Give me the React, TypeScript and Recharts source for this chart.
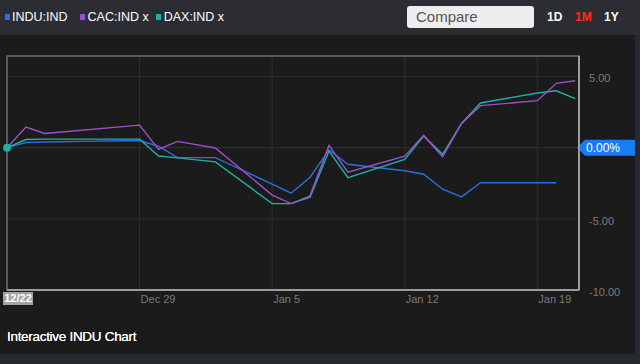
import React from "react";
import {
  LineChart,
  Line,
  XAxis,
  YAxis,
  CartesianGrid,
  ReferenceLine,
  ReferenceArea,
} from "recharts";

// days since 12/22
const days = [0, 1, 2, 4, 7, 8, 9, 11, 14, 15, 16, 17, 18, 21, 22, 23, 24, 25, 28, 29, 30];
const indu = [0, 0.36, 0.4, 0.44, 0.5, 0.1, -0.7, -0.7, -2.56, -3.2, -2.08, -0.16, -1.17, -1.62, -1.87, -2.92, -3.46, -2.46, null, -2.46, null];
const cac = [0, 1.45, 1.0, null, 1.58, -0.12, 0.44, -0.02, -3.33, -3.93, -3.38, 0.16, -1.72, -0.6, 0.86, -0.65, 1.7, 2.95, 3.3, 4.52, 4.7];
const dax = [0, 0.57, 0.6, null, 0.6, -0.59, -0.72, -1.0, -3.93, -3.93, -3.48, -0.24, -2.1, -0.82, 0.81, -0.47, 1.7, 3.14, 3.84, 4.0, 3.45];

const xTicks = [0, 7, 14, 21, 28];
const xTickLabels = ["12/22", "Dec 29", "Jan 5", "Jan 12", "Jan 19"];
const yTicks = [5, 0, -5, -10];

const data = days.map((d, i) => ({ day: d, indu: indu[i], cac: cac[i], dax: dax[i] }));

const FONT = '"Liberation Sans", Arial, sans-serif';
const BLUE = "#2a6fdc";
const PURPLE = "#9d4fcf";
const TEAL = "#1fb0a4";

function XTick(props: any) {
  const { x, y, payload, index } = props;
  const label = xTickLabels[xTicks.indexOf(payload.value)];
  if (index === 0) {
    return (
      <g>
        <rect x={3} y={y - 6} width={30} height={13} fill="#a3a3a3" />
        <text x={18} y={y + 4} textAnchor="middle" fill="#fff" fontSize={11} fontWeight="bold" fontFamily={FONT}>
          {label}
        </text>
      </g>
    );
  }
  return (
    <text x={x + 1} y={y + 5} textAnchor="start" fill="#7a7a7a" fontSize={11} fontFamily={FONT}>
      {label}
    </text>
  );
}

function YTick(props: any) {
  const { x, y, payload } = props;
  if (payload.value === 0) return <g />;
  return (
    <text x={x + 2} y={y + 6} textAnchor="start" fill="#7a7a7a" fontSize={11} fontFamily={FONT}>
      {payload.value.toFixed(2)}
    </text>
  );
}

function Badge(props: any) {
  const { viewBox } = props;
  const tip = viewBox.x + viewBox.width - 2;
  const cy = viewBox.y;
  return (
    <g>
      <polygon
        points={`${tip},${cy} ${tip + 8},${cy - 8} 635,${cy - 8} 635,${cy + 8} ${tip + 8},${cy + 8}`}
        fill="#1a7cf4"
      />
      <text x={tip + 9} y={cy + 4} fill="#fff" fontSize={12} fontFamily={FONT}>
        0.00%
      </text>
    </g>
  );
}

function StartDot(props: any) {
  const { cx, cy, index } = props;
  if (index !== 0) return <g key={index} />;
  return <circle key={index} cx={cx} cy={cy} r={4} fill={TEAL} />;
}

export default function App() {
  return (
    <div style={{ position: "relative", width: 640, height: 364, background: "#262930", fontFamily: FONT, overflow: "hidden" }}>
      <style>{"body{margin:0}"}</style>
      <div style={{ position: "absolute", left: 0, top: 35, width: 635, height: 319, background: "#1c1b1c" }} />

      <div style={{ position: "absolute", left: 0, top: 0 }}>
        <LineChart width={640} height={364} data={data} margin={{ top: 56, right: 0, bottom: 44, left: 7 }}>
          <CartesianGrid stroke="#2f2e2f" />
          <ReferenceArea x1={0} x2={30.2} y1={-10} y2={6.44} fill="none" stroke="#6a6a6a" strokeWidth={1.5} />
          <XAxis
            type="number"
            dataKey="day"
            domain={[0, 30.2]}
            ticks={xTicks}
            height={30}
            tickLine={false}
            axisLine={{ stroke: "#9c9c9c", strokeWidth: 2 }}
            tick={<XTick />}
            interval={0}
          />
          <YAxis
            orientation="right"
            domain={[-10, 6.44]}
            ticks={yTicks}
            width={61}
            tickLine={false}
            axisLine={{ stroke: "#9c9c9c", strokeWidth: 2 }}
            tick={<YTick />}
            interval={0}
          />
          <ReferenceLine y={0} stroke="#2f2e2f" label={<Badge />} />
          <Line type="linear" dataKey="indu" stroke={BLUE} strokeWidth={1.4} dot={false} connectNulls isAnimationActive={false} />
          <Line type="linear" dataKey="dax" stroke={TEAL} strokeWidth={1.4} dot={<StartDot />} connectNulls isAnimationActive={false} />
          <Line type="linear" dataKey="cac" stroke={PURPLE} strokeWidth={1.4} dot={false} connectNulls isAnimationActive={false} />
        </LineChart>
      </div>

      {/* header */}
      <div style={{ position: "absolute", left: 0, top: 0, width: 640, height: 35, background: "#2b2d33" }} />
      <div style={{ position: "absolute", left: 0, top: 9, height: 16, display: "flex", alignItems: "center", color: "#fff", fontSize: 12.5 }}>
        <span style={{ display: "inline-block", width: 5, height: 6, background: BLUE, marginLeft: 5, marginRight: 2 }} />
        <span>INDU:IND</span>
        <span style={{ display: "inline-block", width: 5, height: 6, background: PURPLE, marginLeft: 12, marginRight: 3 }} />
        <span>CAC:IND x</span>
        <span style={{ display: "inline-block", width: 5, height: 6, background: TEAL, marginLeft: 7, marginRight: 3 }} />
        <span>DAX:IND x</span>
      </div>
      <div style={{ position: "absolute", left: 407, top: 6, width: 127, height: 22, background: "#eeeeee", borderRadius: 3, color: "#555", fontSize: 15, lineHeight: "22px", paddingLeft: 9, boxSizing: "border-box" }}>
        Compare
      </div>
      <div style={{ position: "absolute", left: 547, top: 10, fontSize: 12, fontWeight: "bold", color: "#fff" }}>1D</div>
      <div style={{ position: "absolute", left: 575, top: 10, fontSize: 12, fontWeight: "bold", color: "#ff2b1c" }}>1M</div>
      <div style={{ position: "absolute", left: 604, top: 10, fontSize: 12, fontWeight: "bold", color: "#fff" }}>1Y</div>

      <div style={{ position: "absolute", left: 7, top: 329, fontSize: 13.5, color: "#fff", letterSpacing: -0.3, textShadow: "0 0 0.4px #fff" }}>
        Interactive INDU Chart
      </div>
    </div>
  );
}
